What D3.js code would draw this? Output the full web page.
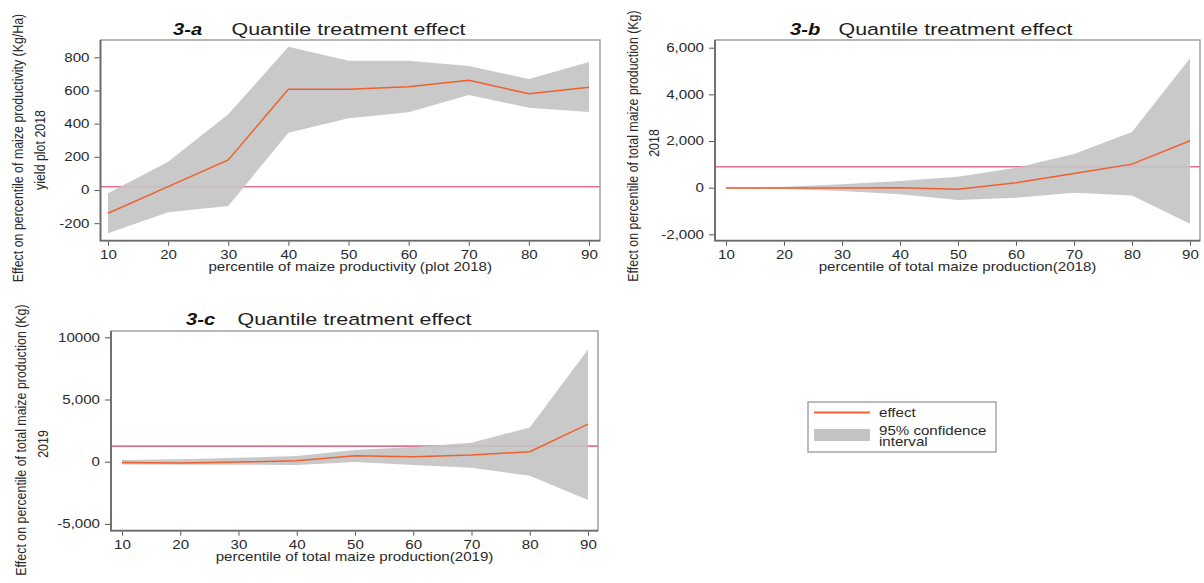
<!DOCTYPE html>
<html><head><meta charset="utf-8">
<script src="https://cdn.jsdelivr.net/npm/d3@7"></script>
<style>
body{margin:0;background:#fff;}
svg{display:block;font-family:"Liberation Sans",Arial,sans-serif;}
</style>
</head><body>
<svg id="chart" width="1204" height="583"></svg>
<script>
// ---------- data ----------
const percentiles = [10, 20, 30, 40, 50, 60, 70, 80, 90];
const xTickLabels = ["10", "20", "30", "40", "50", "60", "70", "80", "90"];

const effectA = [-140, 20, 181, 607, 607, 623, 661, 580, 619];
const upperA  = [-20, 171, 456, 864, 779, 779, 747, 669, 772];
const lowerA  = [-261, -134, -96, 345, 432, 468, 573, 496, 470];
const refA = 20;

const effectB = [-10, -15, -10, 0, -70, 210, 610, 1010, 2010];
const upperB  = [20, 40, 145, 285, 470, 860, 1440, 2390, 5550];
const lowerB  = [-20, -60, -140, -280, -530, -430, -215, -330, -1540];
const refB = 900;

const effectC = [-70, -100, -30, 80, 480, 400, 535, 800, 3020];
const upperC  = [130, 190, 320, 450, 935, 1180, 1525, 2755, 9010];
const lowerC  = [-215, -240, -240, -270, -30, -270, -480, -1120, -3075];
const refC = 1250;

const yTicksA = [-200, 0, 200, 400, 600, 800];
const yTickLabelsA = ["-200", "0", "200", "400", "600", "800"];
const yTicksB = [-2000, 0, 2000, 4000, 6000];
const yTickLabelsB = ["-2,000", "0", "2,000", "4,000", "6,000"];
const yTicksC = [-5000, 0, 5000, 10000];
const yTickLabelsC = ["-5,000", "0", "5,000", "10000"];

const panelTags = ["3-a", "3-b", "3-c"];
const panelTitle = "Quantile treatment effect";
const xTitles = ["percentile of maize productivity (plot 2018)",
                 "percentile of total maize production(2018)",
                 "percentile of total maize production(2019)"];
const yTitles1 = ["Effect on percentile of maize productivity (Kg/Ha)",
                  "Effect on percentile of total maize production (Kg)",
                  "Effect on percentile of total  maize production (Kg)"];
const yTitles2 = ["yield plot 2018", "2018", "2019"];
const legendLabels = ["effect", "95% confidence", "interval"];

// ---------- style / layout ----------
const SX = 1.26;          // horizontal stretch of the reference's text
const FONT = '"Liberation Sans", Arial, sans-serif';
const C_EFFECT = "#f0602c";
const C_REF = "#e2738c";
const C_BAND = "#c3c3c3";
const C_TEXT = "#2a2a2a";
const C_FRAME = "#6a6a6a";

const layouts = [
  { f:{l:100.5, r:600, t:40, b:240.7}, xr:[108, 589], cal:[0,190,800,57.3],
    tagX:173, titleX:231.5, titleY:35, y1:[23, 148], y2:[45, 150] },
  { f:{l:715, r:1200, t:40, b:240.7}, xr:[726, 1190], cal:[0,187.7,6000,47.7],
    tagX:790, titleX:838.5, titleY:35, y1:[637.5, 146], y2:[658.5, 143] },
  { f:{l:111, r:598, t:331, b:530.7}, xr:[122, 588], cal:[0,461.7,10000,337.3],
    tagX:186, titleX:237.5, titleY:324.5, y1:[25.5, 440], y2:[47.5, 444] }
];

const panels = [
  { eff:effectA, up:upperA, lo:lowerA, ref:refA, yt:yTicksA, yl:yTickLabelsA },
  { eff:effectB, up:upperB, lo:lowerB, ref:refB, yt:yTicksB, yl:yTickLabelsB },
  { eff:effectC, up:upperC, lo:lowerC, ref:refC, yt:yTicksC, yl:yTickLabelsC }
];

const svg = d3.select("#chart");

function hText(parent, str, x, y, opts = {}) {
  return parent.append("text")
    .attr("transform", `translate(${x},${y}) scale(${opts.sx || SX},1)`)
    .attr("text-anchor", opts.anchor || "start")
    .attr("font-size", opts.size || 12)
    .attr("font-weight", opts.weight || "normal")
    .attr("font-style", opts.style || "normal")
    .attr("font-family", FONT)
    .attr("fill", opts.fill || C_TEXT)
    .text(str);
}
function vText(parent, str, x, y, size) {
  return parent.append("text")
    .attr("transform", `translate(${x},${y}) scale(1.15,1) rotate(-90)`)
    .attr("text-anchor", "middle")
    .attr("font-size", size)
    .attr("font-family", FONT)
    .attr("fill", C_TEXT)
    .text(str);
}

panels.forEach((p, i) => {
  const L = layouts[i], f = L.f;
  const g = svg.append("g");
  const x = d3.scaleLinear().domain([percentiles[0], percentiles[percentiles.length-1]]).range(L.xr);
  const y = d3.scaleLinear().domain([L.cal[0], L.cal[2]]).range([L.cal[1], L.cal[3]]);
  const rows = percentiles.map((q, k) => ({ q, e:p.eff[k], u:p.up[k], l:p.lo[k] }));

  g.append("rect").attr("x", f.l).attr("y", f.t).attr("width", f.r - f.l).attr("height", f.b - f.t)
    .attr("fill", "#fff");

  // reference line
  g.append("line").attr("x1", f.l).attr("x2", f.r).attr("y1", y(p.ref)).attr("y2", y(p.ref))
    .attr("stroke", C_REF).attr("stroke-width", 1.6);

  // confidence band
  g.append("path").datum(rows)
    .attr("d", d3.area().x(d => x(d.q)).y0(d => y(d.l)).y1(d => y(d.u)))
    .attr("fill", C_BAND).attr("fill-opacity", 0.9);

  // effect line
  g.append("path").datum(rows)
    .attr("d", d3.line().x(d => x(d.q)).y(d => y(d.e)))
    .attr("fill", "none").attr("stroke", C_EFFECT).attr("stroke-width", 1.5);

  // frame
  g.append("rect").attr("x", f.l).attr("y", f.t).attr("width", f.r - f.l).attr("height", f.b - f.t)
    .attr("fill", "none").attr("stroke", "#9a9a9a").attr("stroke-width", 1.4);
  g.append("path").attr("d", `M${f.l},${f.t}V${f.b}H${f.r}`)
    .attr("fill", "none").attr("stroke", C_FRAME).attr("stroke-width", 1.8);

  // y axis
  const ya = g.append("g").attr("transform", `translate(${f.l - 1},0)`)
    .call(d3.axisLeft(y).tickValues(p.yt).tickFormat((d, k) => p.yl[k])
      .tickSizeInner(5).tickSizeOuter(0).tickPadding(5));
  ya.select(".domain").remove();
  ya.selectAll(".tick line").attr("stroke", "#555");
  ya.selectAll(".tick text")
    .attr("x", -10 / SX).attr("transform", `scale(${SX},1)`)
    .attr("font-size", 12).attr("font-family", FONT).attr("fill", C_TEXT);

  // x axis
  const xa = g.append("g").attr("transform", `translate(0,${f.b + 1})`)
    .call(d3.axisBottom(x).tickValues(percentiles).tickFormat((d, k) => xTickLabels[k])
      .tickSizeInner(4).tickSizeOuter(0).tickPadding(5));
  xa.select(".domain").remove();
  xa.selectAll(".tick line").attr("stroke", "#555");
  xa.selectAll(".tick text")
    .attr("transform", `scale(${SX},1)`)
    .attr("font-size", 12).attr("font-family", FONT).attr("fill", C_TEXT);

  // titles
  hText(g, panelTags[i], L.tagX, L.titleY, { size:16, weight:"bold", style:"italic", fill:"#111" });
  hText(g, panelTitle, L.titleX, L.titleY, { size:17, fill:"#1e1e1e" });

  // x axis title
  hText(g, xTitles[i], (f.l + f.r) / 2, f.b + 30.5, { size:12, anchor:"middle" });

  // y axis titles
  vText(g, yTitles1[i], L.y1[0], L.y1[1], 12.4);
  vText(g, yTitles2[i], L.y2[0], L.y2[1], 12.4);
});

// ---------- legend ----------
const lg = svg.append("g");
lg.append("rect").attr("x", 808).attr("y", 402).attr("width", 188).attr("height", 50)
  .attr("fill", "#fff").attr("stroke", "#999").attr("stroke-width", 1.3);
lg.append("line").attr("x1", 814).attr("x2", 870).attr("y1", 412.5).attr("y2", 412.5)
  .attr("stroke", C_EFFECT).attr("stroke-width", 1.8);
lg.append("rect").attr("x", 814).attr("y", 429).attr("width", 56).attr("height", 12)
  .attr("fill", C_BAND);
hText(lg, legendLabels[0], 879, 416.5, { size:12 });
hText(lg, legendLabels[1], 879, 434.5, { size:12 });
hText(lg, legendLabels[2], 879, 445.5, { size:12 });
</script>
</body></html>
